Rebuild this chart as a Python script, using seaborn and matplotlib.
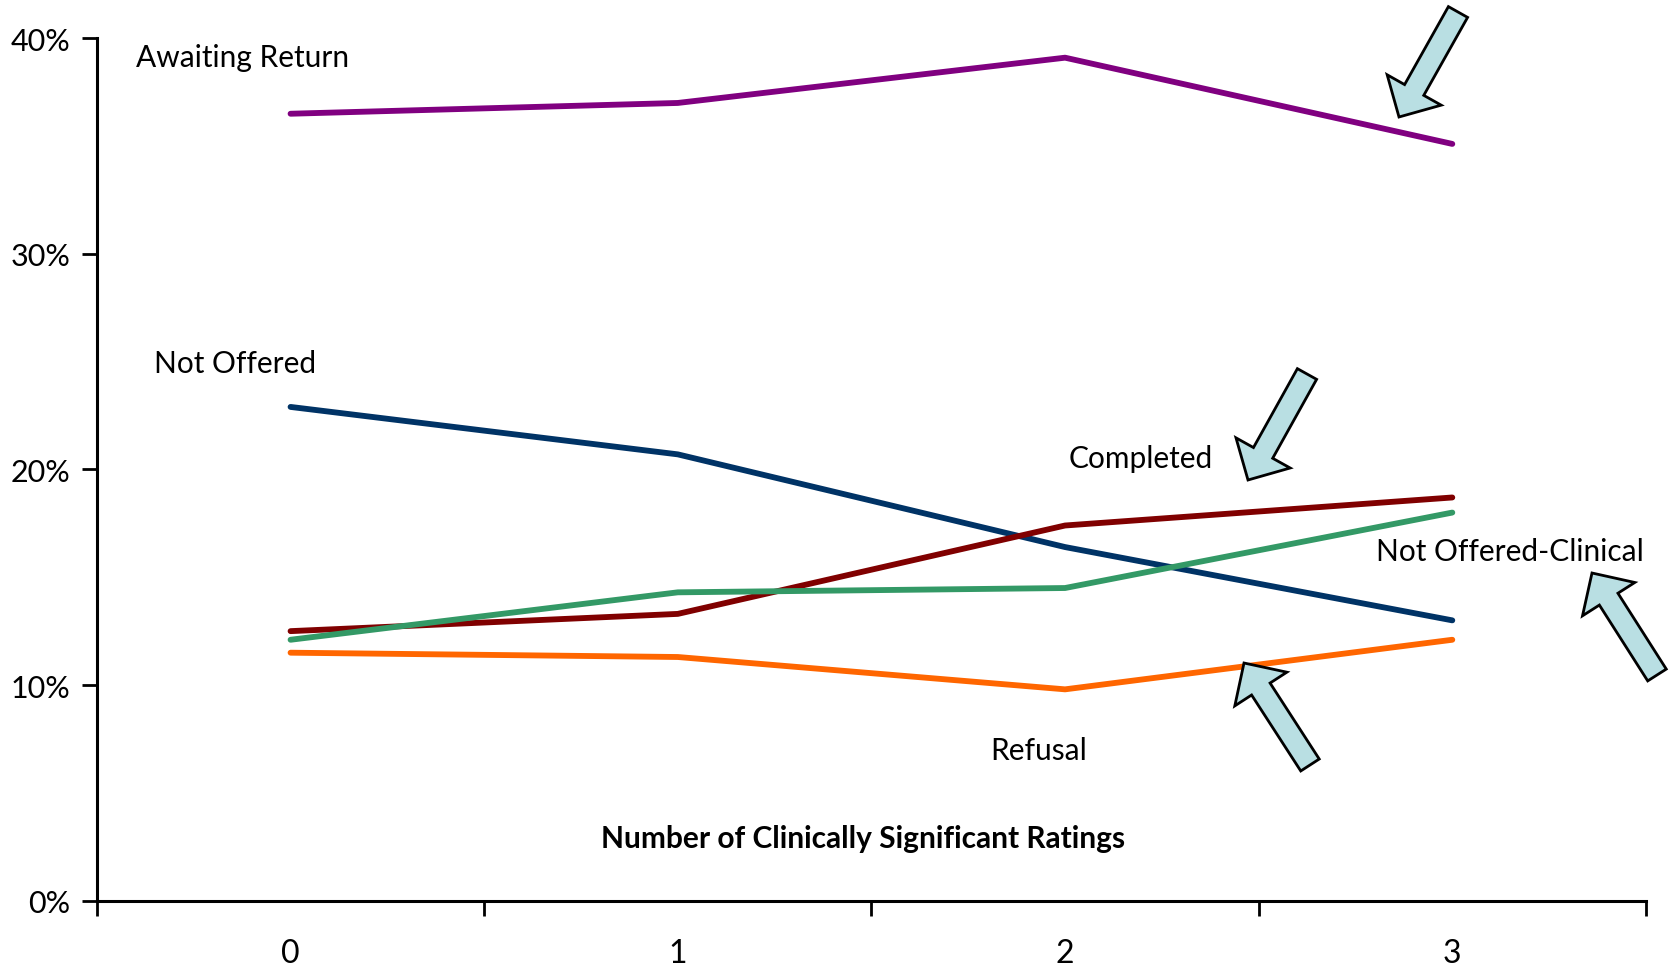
import matplotlib
matplotlib.use("Agg")
import matplotlib.pyplot as plt
import seaborn as sns
import pandas as pd
from matplotlib.patches import FancyArrow
from matplotlib.ticker import PercentFormatter

# Share of cases in each status by number of clinically significant ratings
ratings = [0, 1, 2, 3]
awaiting_return = [36.5, 37.0, 39.1, 35.1]
not_offered = [22.9, 20.7, 16.4, 13.0]
completed = [12.5, 13.3, 17.4, 18.7]
not_offered_clinical = [12.1, 14.3, 14.5, 18.0]
refusal = [11.5, 11.3, 9.8, 12.1]

series = {
    "Awaiting Return": awaiting_return,
    "Not Offered": not_offered,
    "Completed": completed,
    "Not Offered-Clinical": not_offered_clinical,
    "Refusal": refusal,
}
palette = {
    "Awaiting Return": "#800080",
    "Not Offered": "#003366",
    "Completed": "#800000",
    "Not Offered-Clinical": "#339966",
    "Refusal": "#FF6600",
}

df = pd.DataFrame(
    [(r, name, v / 100) for name, vals in series.items() for r, v in zip(ratings, vals)],
    columns=["ratings", "status", "share"],
)

sns.set_theme(style="white")
plt.rcParams["font.family"] = ["Lato", "DejaVu Sans"]

fig = plt.figure(figsize=(16.71, 9.70), dpi=100)
ax = fig.add_axes([0.058, 0.0705, 0.927, 0.889])

sns.lineplot(data=df, x="ratings", y="share", hue="status", palette=palette,
             linewidth=4.2, sort=False, legend=False, ax=ax)

ax.set_xlim(-0.5, 3.5)
ax.set_ylim(0, 0.40)
ax.set_xticks([-0.5, 0.5, 1.5, 2.5, 3.5])
ax.set_xticklabels([])
ax.set_xticks(ratings, minor=True)
ax.set_xticklabels([str(r) for r in ratings], minor=True)
ax.set_yticks([0, 0.1, 0.2, 0.3, 0.4])
ax.yaxis.set_major_formatter(PercentFormatter(1.0, decimals=0))
ax.tick_params(axis="x", which="major", direction="out", length=11, width=2,
               color="black", bottom=True)
ax.tick_params(axis="x", which="minor", length=0, pad=27, labelsize=23,
               labelcolor="black")
ax.tick_params(axis="y", which="major", direction="out", length=11, width=2,
               color="black", left=True, pad=8, labelsize=22, labelcolor="black")
ax.set_xlabel("")
ax.set_ylabel("")
for side in ["top", "right"]:
    ax.spines[side].set_visible(False)
for side in ["left", "bottom"]:
    ax.spines[side].set_color("black")
    ax.spines[side].set_linewidth(2.2)
ax.grid(False)

ax.text(0.4945, 0.0726, "Number of Clinically Significant Ratings",
        transform=ax.transAxes, ha="center", va="center", fontsize=21.5,
        fontweight="bold", color="black")

# Series labels placed beside their lines (axes fractions)
label_pos = {
    "Awaiting Return": (0.025, 0.978),
    "Not Offered": (0.037, 0.624),
    "Completed": (0.627, 0.513),
    "Not Offered-Clinical": (0.826, 0.405),
    "Refusal": (0.577, 0.175),
}
for name, (xa, ya) in label_pos.items():
    ax.text(xa, ya, name, transform=ax.transAxes, ha="left", va="center",
            fontsize=21.5, color="black", clip_on=False)

# Call-out arrows drawn on a pixel-space overlay
over = fig.add_axes([0, 0, 1, 1], zorder=5)
over.set_xlim(0, 1671)
over.set_ylim(970, 0)
over.axis("off")
over.patch.set_alpha(0)
arrows = [
    ((1458, 13), (1399, 118)),
    ((1307, 375), (1248, 481)),
    ((1657, 676), (1592, 574)),
    ((1310, 766), (1244, 664)),
]
for (x0, y0), (x1, y1) in arrows:
    over.add_patch(FancyArrow(x0, y0, x1 - x0, y1 - y0, width=22,
                              head_width=62, head_length=31,
                              length_includes_head=True,
                              facecolor="#B9DFE3", edgecolor="black",
                              linewidth=2.0, joinstyle="miter"))

fig.savefig("out.png", dpi=100)
